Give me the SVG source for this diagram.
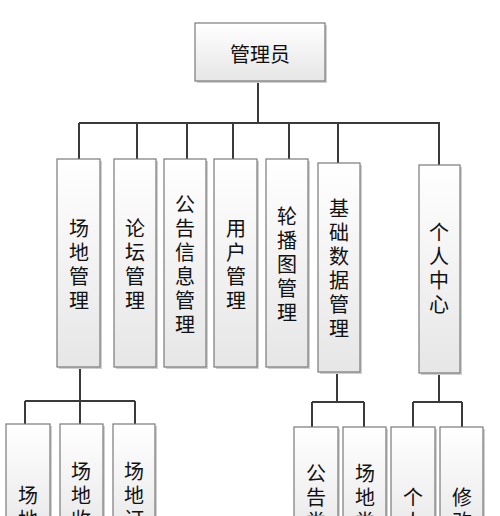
<svg xmlns="http://www.w3.org/2000/svg" width="500" height="516" viewBox="0 0 500 516">
<defs>
<linearGradient id="g" x1="0" y1="0" x2="0" y2="1">
<stop offset="0" stop-color="#ffffff"/>
<stop offset="1" stop-color="#e6e6e6"/>
</linearGradient>
<style>
.box{fill:url(#g);stroke:#7a7a7a;stroke-width:1.2}
.sh{fill:#d0d0d0}
.t{font-family:"Noto Sans CJK SC","Noto Sans",sans-serif;font-size:20px;fill:#111;text-anchor:middle;dominant-baseline:central}
.ln{stroke:#3a3a3a;stroke-width:2;fill:none}
</style>
</defs>
<rect width="500" height="516" fill="#fff"/>
<g id="connectors">
<path class="ln" d="M258 81V123M79 123H440M79 123V159M137 123V159M187 123V159M233 123V159M289 123V159M338 123V163M439 123V165"/>
<path class="ln" d="M80 367V401M25 401H135M25 401V424M80 401V424M135 401V424"/>
<path class="ln" d="M337 372V402M312 402H364M312 402V427M364 402V427"/>
<path class="ln" d="M439 373V402M413 402H462M413 402V427M462 402V427"/>
</g>
<g id="n0"><rect class="sh" x="197" y="25" width="130" height="58"/><rect class="box" x="195" y="23" width="130" height="58"/><text class="t" x="260" y="53">管理员</text></g>
<g id="n1"><rect class="sh" x="59" y="161" width="43" height="208"/><rect class="box" x="57" y="159" width="43" height="208"/><text class="t"><tspan x="79" y="227">场</tspan><tspan x="79" y="251">地</tspan><tspan x="79" y="275">管</tspan><tspan x="79" y="299">理</tspan></text></g>
<g id="n2"><rect class="sh" x="116" y="161" width="42" height="208"/><rect class="box" x="114" y="159" width="42" height="208"/><text class="t"><tspan x="135" y="227">论</tspan><tspan x="135" y="251">坛</tspan><tspan x="135" y="275">管</tspan><tspan x="135" y="299">理</tspan></text></g>
<g id="n3"><rect class="sh" x="166" y="161" width="42" height="208"/><rect class="box" x="164" y="159" width="42" height="208"/><text class="t"><tspan x="185" y="203">公</tspan><tspan x="185" y="227">告</tspan><tspan x="185" y="251">信</tspan><tspan x="185" y="275">息</tspan><tspan x="185" y="299">管</tspan><tspan x="185" y="323">理</tspan></text></g>
<g id="n4"><rect class="sh" x="216" y="161" width="43" height="208"/><rect class="box" x="214" y="159" width="43" height="208"/><text class="t"><tspan x="236" y="227">用</tspan><tspan x="236" y="251">户</tspan><tspan x="236" y="275">管</tspan><tspan x="236" y="299">理</tspan></text></g>
<g id="n5"><rect class="sh" x="268" y="161" width="42" height="208"/><rect class="box" x="266" y="159" width="42" height="208"/><text class="t"><tspan x="287" y="215">轮</tspan><tspan x="287" y="239">播</tspan><tspan x="287" y="263">图</tspan><tspan x="287" y="287">管</tspan><tspan x="287" y="311">理</tspan></text></g>
<g id="n6"><rect class="sh" x="320" y="165" width="42" height="209"/><rect class="box" x="318" y="163" width="42" height="209"/><text class="t"><tspan x="339" y="207">基</tspan><tspan x="339" y="231">础</tspan><tspan x="339" y="255">数</tspan><tspan x="339" y="279">据</tspan><tspan x="339" y="303">管</tspan><tspan x="339" y="327">理</tspan></text></g>
<g id="n7"><rect class="sh" x="421" y="167" width="41" height="208"/><rect class="box" x="419" y="165" width="41" height="208"/><text class="t"><tspan x="439" y="231">个</tspan><tspan x="439" y="255">人</tspan><tspan x="439" y="279">中</tspan><tspan x="439" y="303">心</tspan></text></g>
<g id="n8"><rect class="sh" x="8" y="426" width="44" height="120"/><rect class="box" x="6" y="424" width="44" height="120"/><text class="t"><tspan x="28" y="494">场</tspan><tspan x="28" y="518">地</tspan></text></g>
<g id="n9"><rect class="sh" x="62" y="426" width="43" height="120"/><rect class="box" x="60" y="424" width="43" height="120"/><text class="t"><tspan x="81" y="470">场</tspan><tspan x="81" y="494">地</tspan><tspan x="81" y="518">收</tspan></text></g>
<g id="n10"><rect class="sh" x="115" y="426" width="42" height="120"/><rect class="box" x="113" y="424" width="42" height="120"/><text class="t"><tspan x="134" y="470">场</tspan><tspan x="134" y="494">地</tspan><tspan x="134" y="518">订</tspan></text></g>
<g id="n11"><rect class="sh" x="296" y="429" width="44" height="120"/><rect class="box" x="294" y="427" width="44" height="120"/><text class="t"><tspan x="316" y="472">公</tspan><tspan x="316" y="496">告</tspan><tspan x="316" y="520">类</tspan></text></g>
<g id="n12"><rect class="sh" x="345" y="429" width="43" height="120"/><rect class="box" x="343" y="427" width="43" height="120"/><text class="t"><tspan x="365" y="472">场</tspan><tspan x="365" y="496">地</tspan><tspan x="365" y="520">类</tspan></text></g>
<g id="n13"><rect class="sh" x="393" y="429" width="44" height="120"/><rect class="box" x="391" y="427" width="44" height="120"/><text class="t"><tspan x="413" y="496">个</tspan><tspan x="413" y="520">人</tspan></text></g>
<g id="n14"><rect class="sh" x="442" y="429" width="43" height="120"/><rect class="box" x="440" y="427" width="43" height="120"/><text class="t"><tspan x="462" y="496">修</tspan><tspan x="462" y="520">改</tspan></text></g>
</svg>
